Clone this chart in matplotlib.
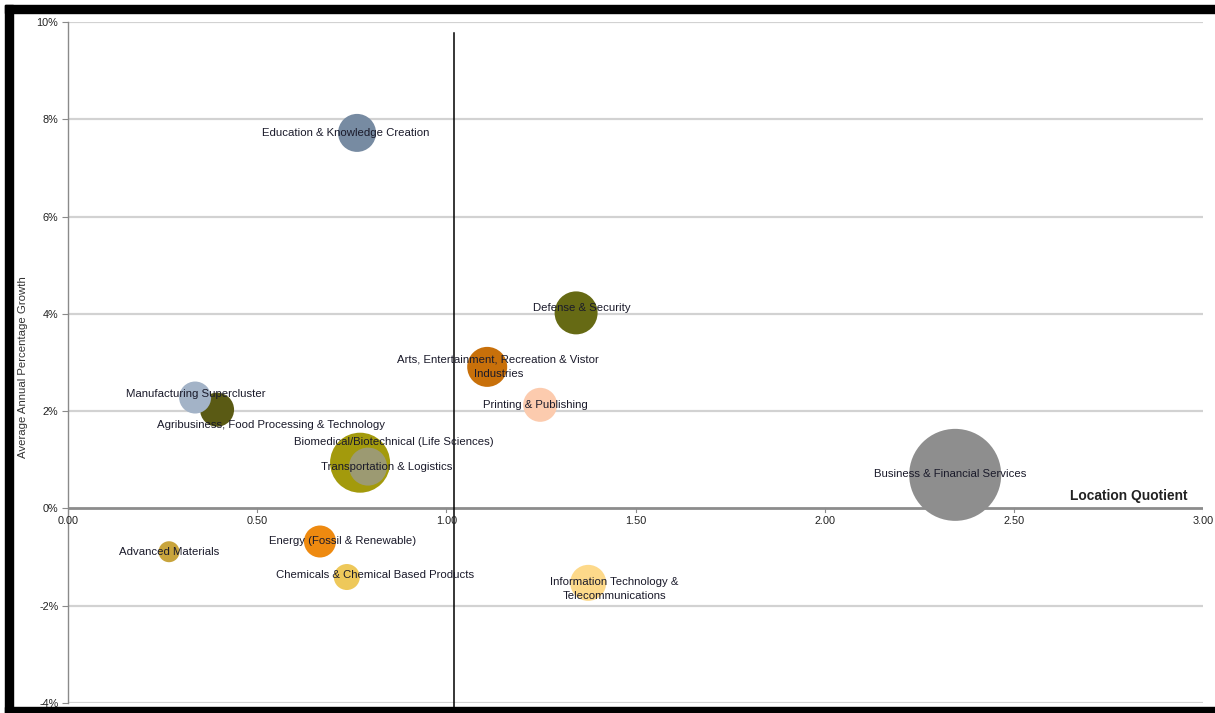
import matplotlib
matplotlib.use("Agg")
import matplotlib.pyplot as plt
from matplotlib.patches import Rectangle
from matplotlib.ticker import FuncFormatter

plt.rcParams['font.family'] = ['Liberation Sans', 'DejaVu Sans']

# Cluster data: location quotient (x), average annual growth in % (y), bubble size
clusters = [
    "Education & Knowledge Creation",
    "Defense & Security",
    "Arts, Entertainment, Recreation & Vistor\nIndustries",
    "Printing & Publishing",
    "Agribusiness, Food Processing & Technology",
    "Manufacturing Supercluster",
    "Biomedical/Biotechnical (Life Sciences)",
    "Transportation & Logistics",
    "Business & Financial Services",
    "Advanced Materials",
    "Energy (Fossil & Renewable)",
    "Chemicals & Chemical Based Products",
    "Information Technology &\nTelecommunications",
]
location_quotient = [0.764, 1.343, 1.108, 1.248, 0.394, 0.336, 0.772, 0.793,
                     2.345, 0.267, 0.666, 0.737, 1.375]
growth_pct = [7.72, 4.02, 2.91, 2.13, 2.03, 2.28, 0.94, 0.86,
              0.69, -0.89, -0.68, -1.41, -1.53]
bubble_size = [361, 462, 400, 289, 289, 256, 900, 361,
               2116, 110, 256, 169, 324]

x_ticks = [0.0, 0.5, 1.0, 1.5, 2.0, 2.5, 3.0]
y_ticks = [-4, -2, 0, 2, 4, 6, 8, 10]

# Styling
colors = ["#778BA2", "#666A14", "#C8700A", "#FCCBAE", "#5A5A14", "#A3B3C7",
          "#A39A0C", "#9C9A72", "#8E8E8E", "#C8A43C", "#EE8A10", "#EEC85A",
          "#FDD98A"]
# label offsets from bubble centre, in pixels (right, down)
label_offsets = [(-11, 0), (6, -5), (11, 0), (-5, 0), (54, 15), (1, -4),
                 (34, -21), (19, 0), (-5, -1), (0, 0), (23, -1), (28, -2),
                 (26, 6)]

W, H, DPI = 1215, 713, 100
fig = plt.figure(figsize=(W / DPI, H / DPI), dpi=DPI)
fig.patch.set_facecolor("white")

left_px, right_px, top_px, bottom_px = 68, 1203, 22, 703
ax = fig.add_axes([left_px / W, 1 - bottom_px / H,
                   (right_px - left_px) / W, (bottom_px - top_px) / H])
ax.set_xlim(0, 3)
ax.set_ylim(-4, 10)

for s in ["top", "right", "bottom"]:
    ax.spines[s].set_visible(False)
ax.spines["left"].set_color("#8A8A8A")
ax.spines["left"].set_linewidth(1.0)

# Horizontal gridlines
for yv in y_ticks:
    if yv == 0:
        continue
    ax.axhline(yv, color="#D2D2D2", lw=1.6, zorder=0)
# Zero line acting as x axis
ax.axhline(0, color="#8C8C8C", lw=2.0, zorder=1)

ax.set_yticks(y_ticks)
ax.yaxis.set_major_formatter(FuncFormatter(lambda v, p: f"{v:.0f}%"))
ax.tick_params(axis="y", length=4, color="#8A8A8A", labelsize=7.8, pad=3,
               labelcolor="#222222")
ax.set_xticks([])

# x tick labels sit just under the zero line
for xv in x_ticks:
    ax.plot([xv, xv], [0, -0.08], color="#8C8C8C", lw=0.8, zorder=1)
    ax.annotate(f"{xv:.2f}", (xv, 0), xytext=(0, -8), textcoords="offset pixels",
                ha="center", va="top", fontsize=7.8, color="#222222")

# Reference line for LQ
ax.plot([1.02, 1.02], [9.77, -4.2], color="black", lw=1.1, zorder=2,
        clip_on=False)

# Bubbles
px_to_pt = 72 / DPI
for xv, yv, sz, col in zip(location_quotient, growth_pct, bubble_size, colors):
    diam_pt = 2 * (sz ** 0.5) * px_to_pt
    ax.scatter(xv, yv, s=diam_pt ** 2, color=col, edgecolors="none",
               zorder=3)

for name, xv, yv, (dx, dy) in zip(clusters, location_quotient, growth_pct,
                                  label_offsets):
    ax.annotate(name, (xv, yv), xytext=(dx, -dy), textcoords="offset pixels",
                ha="center", va="center", fontsize=8.2, color="#1A1A2A",
                zorder=5, linespacing=1.5)

ax.annotate("Location Quotient", (3.0, 0), xytext=(-15, 5),
            textcoords="offset pixels", ha="right", va="bottom",
            fontsize=9.9, fontweight="bold", color="#222222")

fig.text(23 / W, 1 - 367 / H, "Average Annual Percentage Growth",
         rotation=90, ha="center", va="center", fontsize=8.2,
         color="#333333")

# Black frame
fig.patches.append(Rectangle((5 / W, 1 - 13 / H), 1 - 5 / W, 8 / H,
                             transform=fig.transFigure, color="black",
                             zorder=10))
fig.patches.append(Rectangle((5 / W, 0), 8 / W, 1 - 5 / H,
                             transform=fig.transFigure, color="black",
                             zorder=10))
fig.patches.append(Rectangle((5 / W, 0), 1 - 5 / W, 6 / H,
                             transform=fig.transFigure, color="black",
                             zorder=10))

fig.savefig("out.png", dpi=DPI)
